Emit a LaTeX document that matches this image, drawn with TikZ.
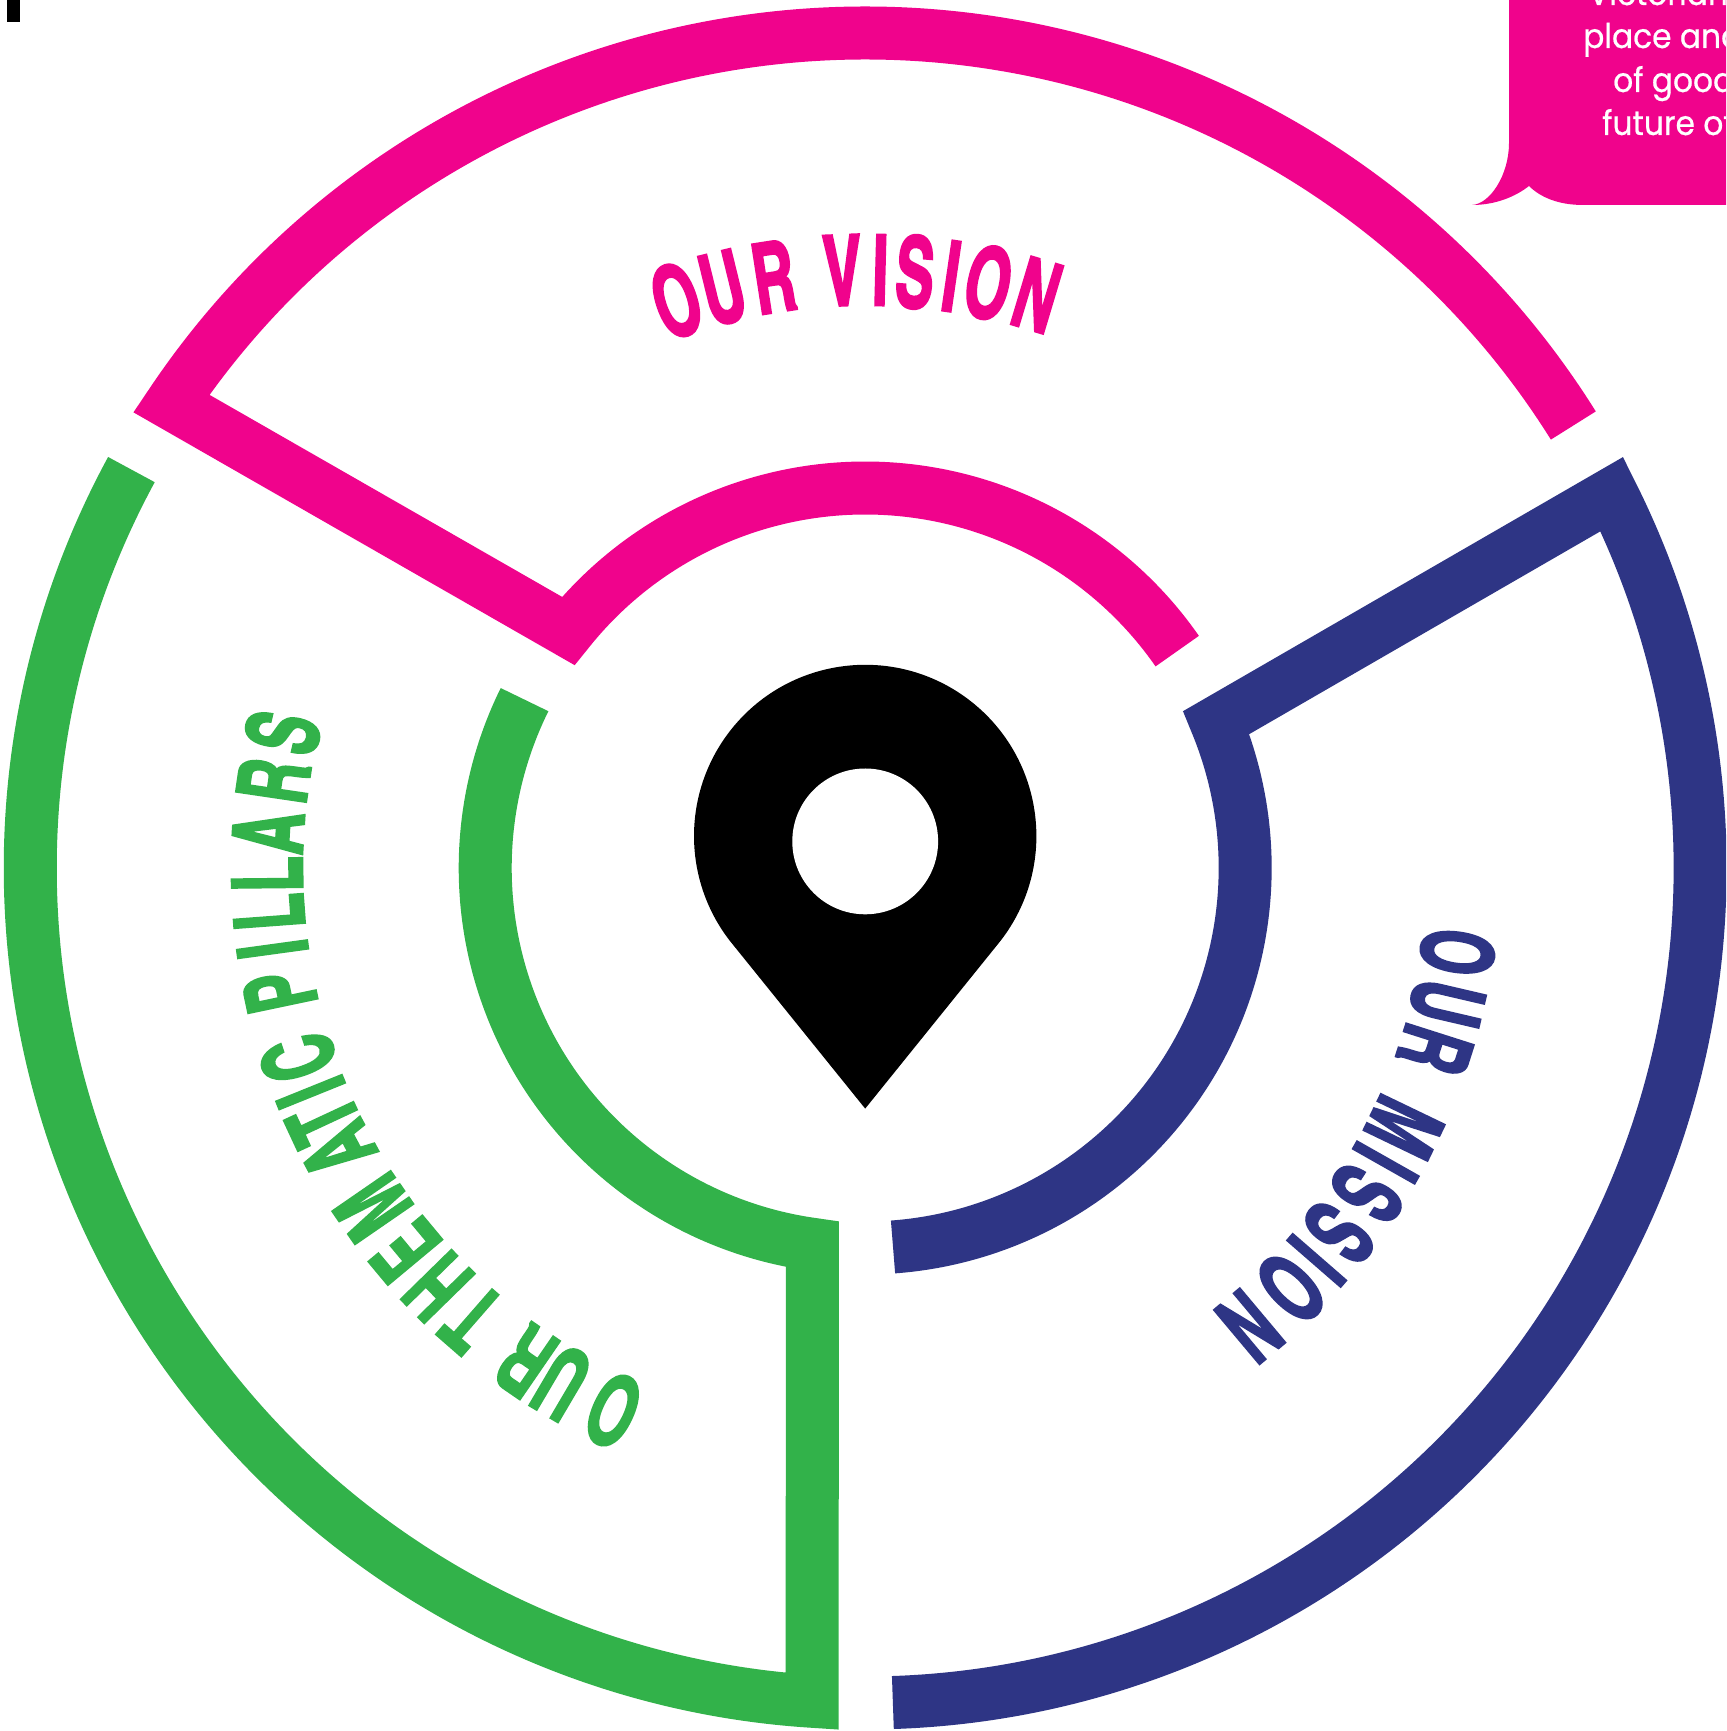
\documentclass[tikz,border=0pt]{standalone}
\usepackage{fontspec}
\setmainfont{Poppins}
\newfontfamily\bubblefont[FakeStretch=0.92,FakeBold=0.6]{Poppins}
\newfontfamily\ringfont[BoldFeatures={FakeBold=2.5}]{TeX Gyre Heros Cn}
\definecolor{ringpink}{HTML}{F0038C}
\definecolor{ringgreen}{HTML}{32B24A}
\definecolor{ringnavy}{HTML}{2E3585}
\tikzset{
  x=1pt,y=1pt,
  band/.style={line width=53pt,miter limit=20,line join=miter,line cap=butt},
  ringletter/.style={anchor=base,inner sep=0pt,outer sep=0pt,font=\ringfont\bfseries\fontsize{98}{98}\selectfont},
  bubbletext/.style={anchor=base west,inner sep=0pt,text=white,font=\bubblefont\fontsize{34}{34}\selectfont},
}
\begin{document}
\begin{tikzpicture}
\useasboundingbox (-865.2,-863) rectangle (860.8,868);
\clip (-865.2,-863) rectangle (860.8,868);
\fill[white] (-865.2,-863) rectangle (860.8,868);
% pixel-coordinate items
\begin{scope}[shift={(-865.2,868)},y=-1pt]
  \fill[black] (7,-2) rectangle (20,22);
  \fill[ringpink] (1509,-5) -- (1509,143)
    .. controls (1509,175) and (1490,204) .. (1472,205)
    .. controls (1495,205) and (1515,197) .. (1529,186)
    .. controls (1540,197) and (1558,205) .. (1583,205)
    -- (1730,205) -- (1730,-5) -- cycle;
  \node[bubbletext] (b1) at (1588,5) {Victorian};
  \node[bubbletext] (b2) at (1583,48) {place and};
  \node[bubbletext] (b3) at (1613,92) {of good};
  \node[bubbletext] (b4) at (1602,135) {future of};
\end{scope}
% rings
\draw[band,ringpink] (32:835) arc[start angle=32,end angle=146.2,radius=835]
  -- (141.4:380) arc[start angle=141.4,end angle=34.8,radius=380];
\draw[band,ringgreen] (151.5:835) arc[start angle=151.5,end angle=266.36,radius=835]
  -- (262:380) arc[start angle=262,end angle=153.7,radius=380];
\draw[band,ringnavy] (-88.1:835) arc[start angle=-88.1,end angle=26.6,radius=835]
  -- (22.5:380) arc[start angle=22.5,end angle=-85.8,radius=380];
% pin
\fill[black] (0,32)++(-37.7:171.2) arc[start angle=-37.7,end angle=217.7,radius=171.2] -- (0,-240.6) -- cycle;
\fill[white] (0,26.6) circle[radius=72.9];
% curved labels
\foreach \a/\l [count=\i] in {-18.4/O,-13.8/U,-8.8/R,-2.2/V,1.46/I,4.8/S,8.3/I,11.9/O,16.7/N}
  \node[ringletter,text=ringpink,rotate=-\a,xscale=0.72] (v\i) at ({90-\a}:563) {\l};
\foreach \a/\l [count=\i] in {98.1/O,103.1/U,107.7/R,115.7/M,119.5/I,123/S,127.6/S,131/I,134.6/O,140/N}
  \node[ringletter,text=ringnavy,rotate=-\a,xscale=0.72] (m\i) at ({90-\a}:563) {\l};
\foreach \a/\l [count=\i] in {204.9/O,210.5/U,214.5/R,221.1/T,225.6/H,230.2/E,235.4/M,241.8/A,245/T,248/I,251.5/C,258.1/P,262.2/I,265.75/L,269.4/L,273.4/A,278.4/R,283.1/S}
  \node[ringletter,text=ringgreen,rotate=-\a,xscale=0.72] (g\i) at ({90-\a}:563) {\l};
\end{tikzpicture}
\end{document}
